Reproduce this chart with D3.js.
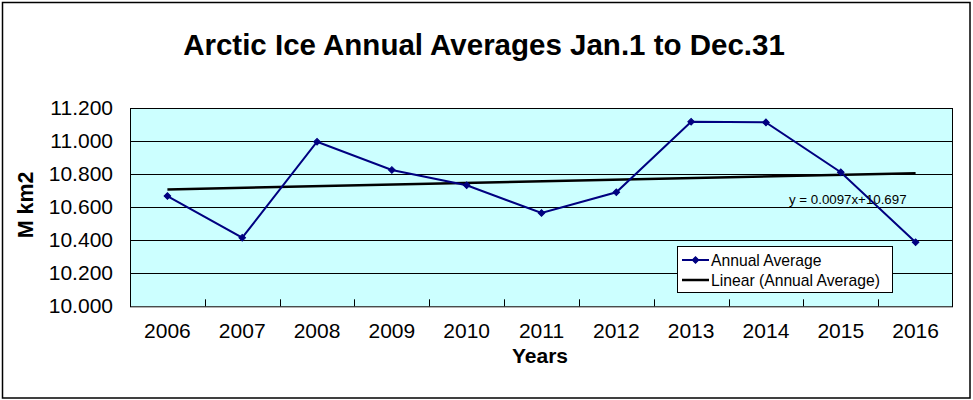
<!DOCTYPE html>
<html>
<head>
<meta charset="utf-8">
<script src="https://cdn.jsdelivr.net/npm/d3@7"></script>
<style>
  html, body { margin: 0; padding: 0; background: #fff; }
  svg { display: block; font-family: "Liberation Sans", Arial, sans-serif; }
</style>
</head>
<body>
<svg id="chart" width="973" height="400"></svg>
<script>
// ---- data ----
const years = ["2006","2007","2008","2009","2010","2011","2012","2013","2014","2015","2016"];
const annualAverage = [10.667, 10.415, 10.996, 10.825, 10.732, 10.565, 10.690, 11.117, 11.113, 10.811, 10.387];
const yTicks = [10.0, 10.2, 10.4, 10.6, 10.8, 11.0, 11.2];
const titleText = "Arctic Ice Annual Averages Jan.1 to Dec.31";
const xTitle = "Years";
const yTitle = "M km2";
const trendLabel = "y = 0.0097x+10.697";
const legendLabels = ["Annual Average", "Linear (Annual Average)"];

// ---- layout ----
const svg = d3.select("#chart");
const plot = { left: 130, right: 953, top: 108, bottom: 306.3 };
const navy = "#000080";

svg.append("rect").attr("x", 2.5).attr("y", 2.5).attr("width", 967.5).attr("height", 395.5)
  .attr("fill", "#fff").attr("stroke", "#000").attr("stroke-width", 1.5);

const x = d3.scaleBand().domain(years).range([plot.left, plot.right]).padding(0);
const y = d3.scaleLinear().domain([10.0, 11.2]).range([plot.bottom, plot.top]);
const cx = d => x(d) + x.bandwidth() / 2;

// plot area
svg.append("rect").attr("x", plot.left).attr("y", plot.top)
  .attr("width", plot.right - plot.left).attr("height", plot.bottom - plot.top)
  .attr("fill", "#CCFFFF");

// gridlines
svg.append("g").selectAll("line").data(yTicks.slice(1, -1)).join("line")
  .attr("x1", plot.left).attr("x2", plot.right)
  .attr("y1", d => Math.round(y(d)) + 0.5).attr("y2", d => Math.round(y(d)) + 0.5)
  .attr("stroke", "#000").attr("stroke-width", 1);

// plot border
svg.append("rect").attr("x", plot.left + 0.5).attr("y", plot.top + 0.5)
  .attr("width", plot.right - plot.left - 1).attr("height", plot.bottom - plot.top)
  .attr("fill", "none").attr("stroke", "#000").attr("stroke-width", 1);

// x ticks between categories (inside)
svg.append("g").selectAll("line").data(years.slice(1)).join("line")
  .attr("x1", d => Math.round(x(d)) + 0.5).attr("x2", d => Math.round(x(d)) + 0.5)
  .attr("y1", plot.bottom).attr("y2", plot.bottom - 7)
  .attr("stroke", "#000").attr("stroke-width", 1);

// y tick labels
svg.append("g").selectAll("text").data(yTicks).join("text")
  .attr("x", 113).attr("y", d => y(d) + 6.5)
  .attr("text-anchor", "end").attr("font-size", 21).attr("fill", "#000")
  .text(d => d3.format(".3f")(d));

// x tick labels
svg.append("g").selectAll("text").data(years).join("text")
  .attr("x", d => cx(d)).attr("y", 338)
  .attr("text-anchor", "middle").attr("font-size", 21).attr("fill", "#000")
  .text(d => d);

// titles
svg.append("text").attr("x", 484).attr("y", 55).attr("text-anchor", "middle")
  .attr("font-size", 29.5).attr("font-weight", "bold").text(titleText);
svg.append("text").attr("x", 540).attr("y", 363).attr("text-anchor", "middle")
  .attr("font-size", 21).attr("font-weight", "bold").text(xTitle);
svg.append("text").attr("transform", "translate(33,205) rotate(-90)").attr("text-anchor", "middle")
  .attr("font-size", 21.4).attr("font-weight", "bold").text(yTitle);

// linear trend (least squares on the series)
const n = annualAverage.length;
const xs = d3.range(1, n + 1);
const mx = d3.mean(xs), my = d3.mean(annualAverage);
const slope = d3.sum(xs, (xi, i) => (xi - mx) * (annualAverage[i] - my)) / d3.sum(xs, xi => (xi - mx) ** 2);
const intercept = my - slope * mx;
const trendPts = [[years[0], intercept + slope * 1], [years[n - 1], intercept + slope * n]];
svg.append("path").datum(trendPts)
  .attr("d", d3.line().x(d => cx(d[0])).y(d => y(d[1])))
  .attr("fill", "none").attr("stroke", "#000").attr("stroke-width", 2.5);

// series line
const pts = years.map((yr, i) => [yr, annualAverage[i]]);
svg.append("path").datum(pts)
  .attr("d", d3.line().x(d => cx(d[0])).y(d => y(d[1])))
  .attr("fill", "none").attr("stroke", navy).attr("stroke-width", 2);

const diamond = d3.symbol().type(d3.symbolSquare).size(22);
svg.append("g").selectAll("path").data(pts).join("path")
  .attr("transform", d => `translate(${cx(d[0])},${y(d[1])}) rotate(45)`)
  .attr("d", diamond).attr("fill", navy).attr("stroke", navy).attr("stroke-width", 1);

// trend equation
svg.append("text").attr("x", 789).attr("y", 204).attr("font-size", 13.3).attr("fill", "#000")
  .text(trendLabel);

// legend
const lg = svg.append("g");
lg.append("rect").attr("x", 677.5).attr("y", 246.5).attr("width", 215).attr("height", 46)
  .attr("fill", "#fff").attr("stroke", "#000").attr("stroke-width", 1);
const rows = [260, 280];
lg.append("line").attr("x1", 682).attr("x2", 709).attr("y1", rows[0]).attr("y2", rows[0])
  .attr("stroke", navy).attr("stroke-width", 2);
lg.append("path").attr("transform", `translate(695.5,${rows[0]}) rotate(45)`).attr("d", diamond)
  .attr("fill", navy).attr("stroke", navy);
lg.append("line").attr("x1", 682).attr("x2", 709).attr("y1", rows[1]).attr("y2", rows[1])
  .attr("stroke", "#000").attr("stroke-width", 2.5);
lg.selectAll("text.leg").data(legendLabels).join("text").attr("class", "leg")
  .attr("x", 711).attr("y", (d, i) => rows[i] + 5.5).attr("font-size", 15.7).attr("fill", "#000")
  .text(d => d);
</script>
</body>
</html>
